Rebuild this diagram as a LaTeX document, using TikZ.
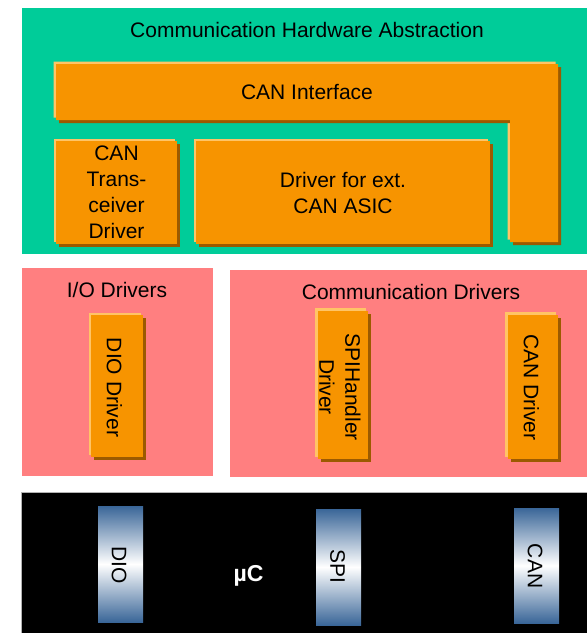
\documentclass[tikz,border=0pt]{standalone}
\usepackage{fontspec}
\setmainfont{Liberation Sans}
\usetikzlibrary{shadows}
\definecolor{hwgreen}{HTML}{00CC99}
\definecolor{boxorange}{HTML}{F79400}
\definecolor{hilite}{HTML}{FFC466}
\definecolor{shadebrown}{HTML}{9C5A00}
\definecolor{drvpink}{HTML}{FF7F80}
\definecolor{barblue}{HTML}{3A6698}
\tikzset{
  area/.style={inner sep=0pt, outer sep=0pt, anchor=north west, draw=none},
  raised/.style={fill=boxorange,
    general shadow={shadow xshift=-2.5pt, shadow yshift=2.5pt, fill=hilite},
    general shadow={shadow xshift=3pt, shadow yshift=-3pt, fill=shadebrown}},
  lbl/.style={font=\fontsize{21}{26}\selectfont, text=black, align=center, inner sep=0pt},
  vlbl/.style={lbl, rotate=-90},
  bar/.style={area, top color=barblue, bottom color=barblue, middle color=white},
}
\begin{document}
\begin{tikzpicture}[x=1pt,y=-1pt]
\useasboundingbox (0,0) rectangle (587,633);
% Communication Hardware Abstraction
\node[area, fill=hwgreen, minimum width=565pt, minimum height=246pt] (cha) at (22,8) {};
\node[lbl, anchor=base] (chatitle) at (307,37) {Communication Hardware Abstraction};
\path[raised] (56,64) -- (558,64) -- (558,242) -- (510,242) -- (510,120) -- (56,120) -- cycle;
\node[lbl, anchor=base] (canif) at (307,99) {CAN Interface};
\node[area, raised, lbl, minimum width=121pt, minimum height=103pt] (trcv) at (56,141) {CAN\\Trans-\\ceiver\\Driver};
\node[area, raised, lbl, minimum width=294pt, minimum height=103pt] (asic) at (196,141) {Driver for ext.\\CAN ASIC};
% I/O Drivers
\node[area, fill=drvpink, minimum width=191pt, minimum height=208pt] (iod) at (22,268) {};
\node[lbl, anchor=base] (iodtitle) at (117,297) {I/O Drivers};
\node[area, raised, minimum width=52pt, minimum height=142pt] (dio) at (91,315) {};
\node[vlbl] (diotext) at (114.5,387.5) {DIO Driver};
% Communication Drivers
\node[area, fill=drvpink, minimum width=357pt, minimum height=207pt] (comd) at (230,270) {};
\node[lbl, anchor=base] (comdtitle) at (411,299) {Communication Drivers};
\node[area, raised, minimum width=50.5pt, minimum height=148.5pt] (spih) at (317.5,310.5) {};
\node[vlbl] (spihtext) at (340,387) {SPIHandler\\Driver};
\node[area, raised, minimum width=50.5pt, minimum height=144.5pt] (cand) at (507.5,314.5) {};
\node[vlbl] (candtext) at (531.5,387.5) {CAN Driver};
% Microcontroller
\node[area, fill=black, minimum width=566pt, minimum height=141pt] (mcu) at (21,492) {};
\draw[gray!60, line width=0.8pt] (mcu.south west) -- (mcu.north west) -- (mcu.north east);
\node[bar, minimum width=45pt, minimum height=116pt] (diobar) at (98,506) {};
\node[vlbl] (diobartext) at (119,565) {DIO};
\node[bar, minimum width=45pt, minimum height=116pt] (spibar) at (316,509) {};
\node[vlbl] (spibartext) at (337.5,566) {SPI};
\node[bar, minimum width=45pt, minimum height=115pt] (canbar) at (514,508) {};
\node[vlbl] (canbartext) at (535,566) {CAN};
\node[anchor=base, inner sep=0pt, text=white, font=\fontsize{23}{28}\selectfont\bfseries] (muc) at (248.5,581) {µC};
\end{tikzpicture}
\end{document}
